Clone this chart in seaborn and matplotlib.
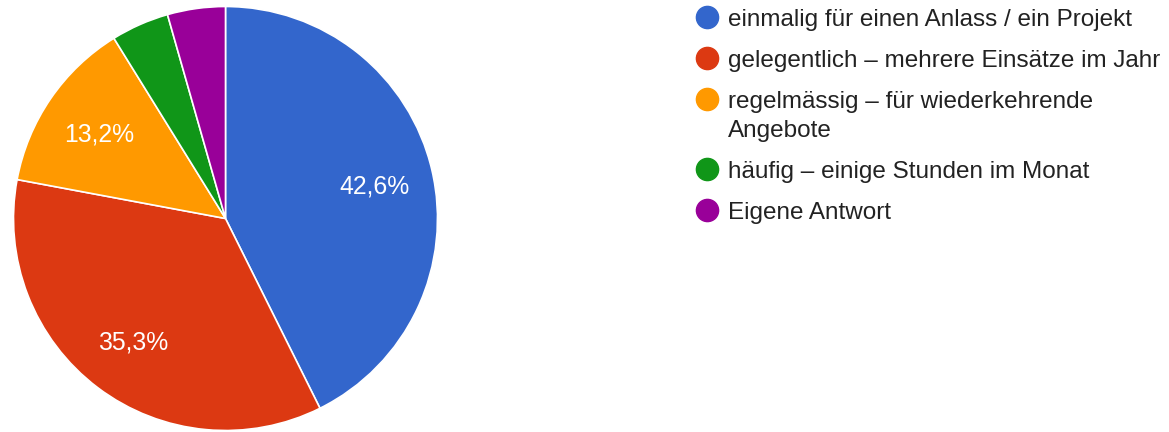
import matplotlib
matplotlib.use("Agg")
import matplotlib.pyplot as plt
import seaborn as sns

# antworten (anzahl)
kategorien = [
    "einmalig für einen Anlass / ein Projekt",
    "gelegentlich – mehrere Einsätze im Jahr",
    "regelmässig – für wiederkehrende\nAngebote",
    "häufig – einige Stunden im Monat",
    "Eigene Antwort",
]
anzahl = [29, 24, 9, 3, 3]
farben = ["#3366CC", "#DC3912", "#FF9900", "#109618", "#990099"]

sns.set_theme(style="white")
plt.rcParams['font.family'] = ['Liberation Sans', 'DejaVu Sans']
palette = sns.color_palette(farben)

W, H = 1169, 432
fig = plt.figure(figsize=(W / 100, H / 100), dpi=100)

# pie: mitte ca. (225, 218), radius 212 px
cx, cy, r = 225.5, 218.5, 212
ax = fig.add_axes([(cx - r) / W, 1 - (cy + r) / H, 2 * r / W, 2 * r / H])


def pct_label(p):
    if p < 5:
        return ""
    return f"{p:.1f}%".replace(".", ",")


wedges, texts, autotexts = ax.pie(
    anzahl, colors=palette, startangle=90, counterclock=False,
    autopct=pct_label, pctdistance=0.72, radius=1.0,
    wedgeprops=dict(edgecolor="white", linewidth=1.2),
    textprops=dict(color="white", fontsize=17.8),
)
for t in autotexts:
    t.set_va("center_baseline")
ax.set_xlim(-1, 1)
ax.set_ylim(-1, 1)
ax.set_aspect("equal")
ax.axis("off")

# legende von hand
lx_marker, lx_text = 707, 728
y = 17
for lab, col in zip(kategorien, palette):
    fig.lines.append(plt.Line2D([lx_marker / W], [1 - y / H], marker="o", markersize=16,
                                color=col, linestyle="none", transform=fig.transFigure))
    for k, zeile in enumerate(lab.split("\n")):
        fig.text(lx_text / W, 1 - (y + 9 + 29 * k) / H, zeile, fontsize=17.5,
                 color="#222222", va="baseline", ha="left")
    y += 41 + 29 * lab.count("\n")

fig.savefig("out.png", dpi=100, facecolor="white")
